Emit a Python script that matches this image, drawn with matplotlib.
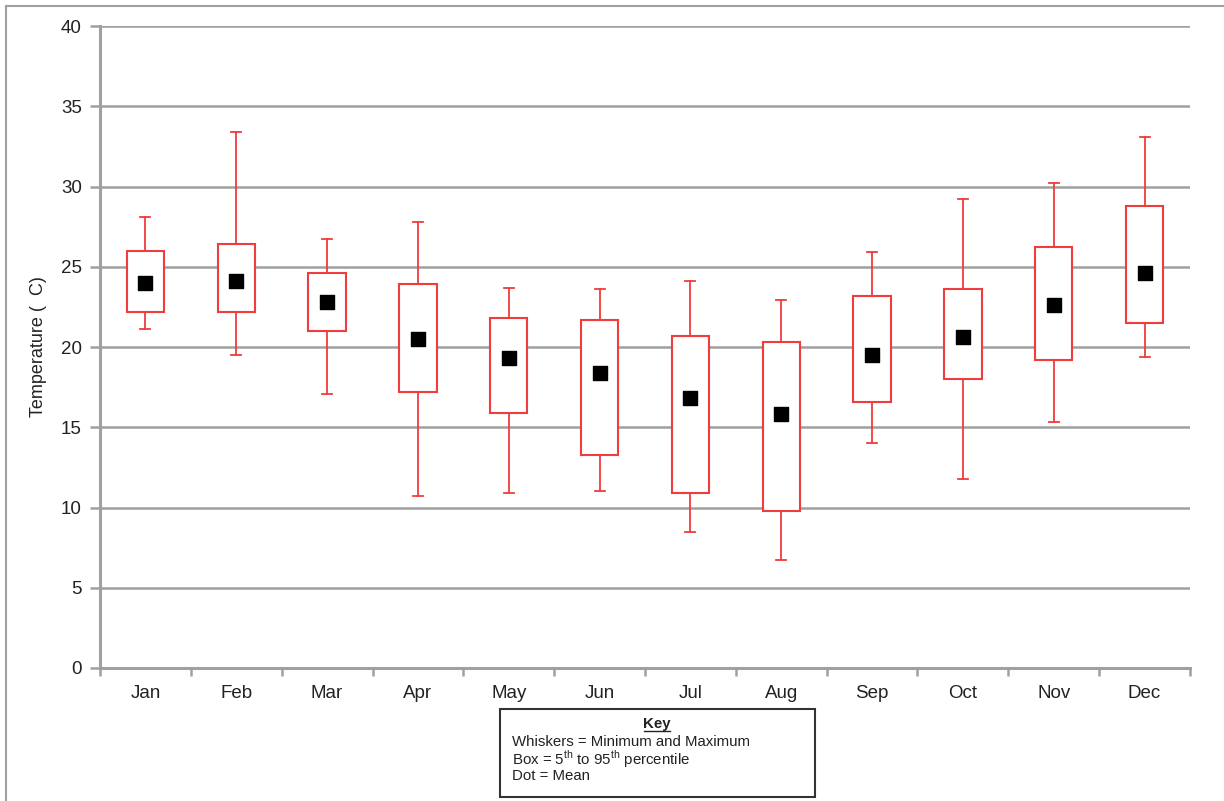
import numpy as np
import matplotlib.pyplot as plt
from matplotlib.patches import Rectangle

plt.rcParams['font.family'] = ['Liberation Sans', 'DejaVu Sans']

months = ["Jan", "Feb", "Mar", "Apr", "May", "Jun",
          "Jul", "Aug", "Sep", "Oct", "Nov", "Dec"]
t_min = [21.1, 19.5, 17.1, 10.7, 10.9, 11.0, 8.5, 6.7, 14.0, 11.8, 15.3, 19.4]
p5 = [22.2, 22.2, 21.0, 17.2, 15.9, 13.3, 10.9, 9.8, 16.6, 18.0, 19.2, 21.5]
p95 = [26.0, 26.4, 24.6, 23.9, 21.8, 21.7, 20.7, 20.3, 23.2, 23.6, 26.2, 28.8]
t_max = [28.1, 33.4, 26.7, 27.8, 23.7, 23.6, 24.1, 22.9, 25.9, 29.2, 30.2, 33.1]
t_mean = [24.0, 24.1, 22.8, 20.5, 19.3, 18.4, 16.8, 15.8, 19.5, 20.6, 22.6, 24.6]

red = "#f03c3c"
grey = "#a0a0a0"

fig = plt.figure(figsize=(12.24, 8.01), dpi=100)
ax = fig.add_axes([100 / 1224, 1 - 668 / 801, 1090 / 1224, 642 / 801])

x = np.arange(len(months))
box_w = 0.41
cap_w = 0.11

# gridlines
for v in range(5, 41, 5):
    ax.axhline(v, color=grey, lw=1.8, zorder=1)

for i in x:
    ax.plot([i, i], [t_min[i], p5[i]], color=red, lw=1.3, zorder=2)
    ax.plot([i, i], [p95[i], t_max[i]], color=red, lw=1.3, zorder=2)
    ax.plot([i - cap_w / 2, i + cap_w / 2], [t_min[i]] * 2, color=red, lw=1.3, zorder=2)
    ax.plot([i - cap_w / 2, i + cap_w / 2], [t_max[i]] * 2, color=red, lw=1.3, zorder=2)
    ax.add_patch(Rectangle((i - box_w / 2, p5[i]), box_w, p95[i] - p5[i],
                           facecolor="white", edgecolor=red, lw=1.5, zorder=3))

ax.scatter(x, t_mean, marker="s", s=110, color="black", zorder=4)

ax.set_xlim(-0.5, 11.5)
ax.set_ylim(0, 40)
ax.set_yticks(range(0, 41, 5))
ax.set_xticks(x)
ax.set_xticklabels(months)
ax.set_xticks(np.arange(-0.5, 12, 1), minor=True)
ax.tick_params(axis="x", which="major", length=0, pad=12, labelsize=13.5, labelcolor="#222222")
ax.tick_params(axis="x", which="minor", length=6, width=1.8, color=grey)
ax.tick_params(axis="y", length=7, width=1.8, color=grey, labelsize=13.5, labelcolor="#222222", pad=6)

for s in ["top", "right"]:
    ax.spines[s].set_visible(False)
for s in ["left", "bottom"]:
    ax.spines[s].set_color(grey)
    ax.spines[s].set_linewidth(2.2)

ax.set_ylabel("Temperature (  C)", fontsize=13, color="#222222", labelpad=10)

# outer frame
fig.add_artist(plt.Line2D([6 / 1224, 6 / 1224], [0, 1 - 6 / 801], color=grey, lw=1.5))
fig.add_artist(plt.Line2D([6 / 1224, 1], [1 - 6 / 801, 1 - 6 / 801], color=grey, lw=1.5))

# key box
fig.add_artist(Rectangle((500 / 1224, 1 - 797 / 801), 315 / 1224, 88 / 801,
                         facecolor="white", edgecolor="#333333", lw=1.5,
                         transform=fig.transFigure))
fig.text(657 / 1224, 1 - 724 / 801, "Key", ha="center", va="center",
         fontsize=10.8, fontweight="bold", color="#222222")
fig.add_artist(plt.Line2D([644 / 1224, 670 / 1224], [1 - 731 / 801, 1 - 731 / 801],
                          color="#222222", lw=1))
plt.rcParams['mathtext.fontset'] = 'custom'
plt.rcParams['mathtext.rm'] = 'Liberation Sans'
lines = ["Whiskers = Minimum and Maximum",
         r"Box = 5$^{\rm th}$ to 95$^{\rm th}$ percentile",
         "Dot = Mean"]
for k, s in enumerate(lines):
    fig.text(512 / 1224, 1 - (742 + 17 * k) / 801, s, ha="left", va="center",
             fontsize=10.8, color="#222222")

fig.savefig("out.png", dpi=100)
